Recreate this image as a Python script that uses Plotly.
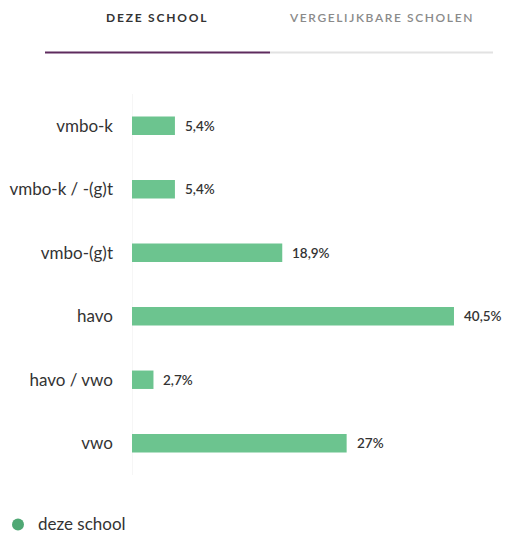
import plotly.graph_objects as go

categories = ["vmbo-k", "vmbo-k / -(g)t", "vmbo-(g)t", "havo", "havo / vwo", "vwo"]
values = [5.4, 5.4, 18.9, 40.5, 2.7, 27.0]
labels = ["5,4%", "5,4%", "18,9%", "40,5%", "2,7%", "27%"]
series_name = "deze school"
tab_active = "DEZE SCHOOL"
tab_inactive = "VERGELIJKBARE SCHOLEN"

W, H = 506, 535
L, R, T, B = 132, 6, 94, 60
PW, PH = W - L - R, H - T - B

def xp(px):
    return (px - L) / PW

def yp(py):
    return (H - B - py) / PH

FONT = "Lato"
BAR = "#6cc48f"
LEG = "#4fa874"

fig = go.Figure()
fig.add_trace(go.Bar(
    x=values, y=categories, orientation="h", name=series_name,
    marker=dict(color=BAR, line=dict(width=0)),
    showlegend=False, hoverinfo="skip",
))

for c, v, t in zip(categories, values, labels):
    fig.add_annotation(x=v, y=c, text=t, showarrow=False, xanchor="left",
                       xshift=8, font=dict(family=FONT, size=13.5, color="#333333", weight=600))

# tabs
fig.add_annotation(xref="paper", yref="paper", x=xp(157), y=yp(17), text=f"<span style='letter-spacing:1.8px'>{tab_active}</span>",
                   showarrow=False, xanchor="center", yanchor="middle",
                   font=dict(family=FONT, size=12, color="#333333", weight=700))
fig.add_annotation(xref="paper", yref="paper", x=xp(381), y=yp(17), text=f"<span style='letter-spacing:1.6px'>{tab_inactive}</span>",
                   showarrow=False, xanchor="center", yanchor="middle",
                   font=dict(family=FONT, size=12, color="#8a8a8a", weight=600))
fig.add_shape(type="line", xref="paper", yref="paper", x0=xp(270), x1=xp(493), y0=yp(52.5), y1=yp(52.5),
              line=dict(color="#e2e2e2", width=2))
fig.add_shape(type="line", xref="paper", yref="paper", x0=xp(45), x1=xp(270), y0=yp(52.5), y1=yp(52.5),
              line=dict(color="#5e2b5e", width=2))

# legend (drawn manually so it can sit near the bottom edge)
fig.add_shape(type="circle", xref="paper", yref="paper",
              x0=xp(12), x1=xp(24), y0=yp(530.5), y1=yp(518.5),
              fillcolor=LEG, line=dict(width=0))
fig.add_annotation(xref="paper", yref="paper", x=xp(36), y=yp(523.5), text=series_name,
                   showarrow=False, xanchor="left", yanchor="middle",
                   font=dict(family=FONT, size=17, color="#333333"))

fig.update_layout(
    width=W, height=H,
    margin=dict(l=L, r=R, t=T, b=B, autoexpand=False),
    paper_bgcolor="white", plot_bgcolor="white",
    bargap=0.71, showlegend=False,
    font=dict(family=FONT, color="#333333"),
    xaxis=dict(range=[0, PW / 7.95], visible=False, fixedrange=True),
    yaxis=dict(autorange="reversed", showgrid=False, zeroline=False,
               showline=False, ticks="", ticklabelstandoff=18, fixedrange=True,
               tickfont=dict(family=FONT, size=17, color="#333333")),
)
fig.add_shape(type="line", xref="x", yref="paper", x0=0, x1=0, y0=0, y1=1,
              line=dict(color="#eeeeee", width=1), layer="below")

fig.write_html("out.html", config={"displayModeBar": False},
               post_script="document.body.style.margin='0';")
